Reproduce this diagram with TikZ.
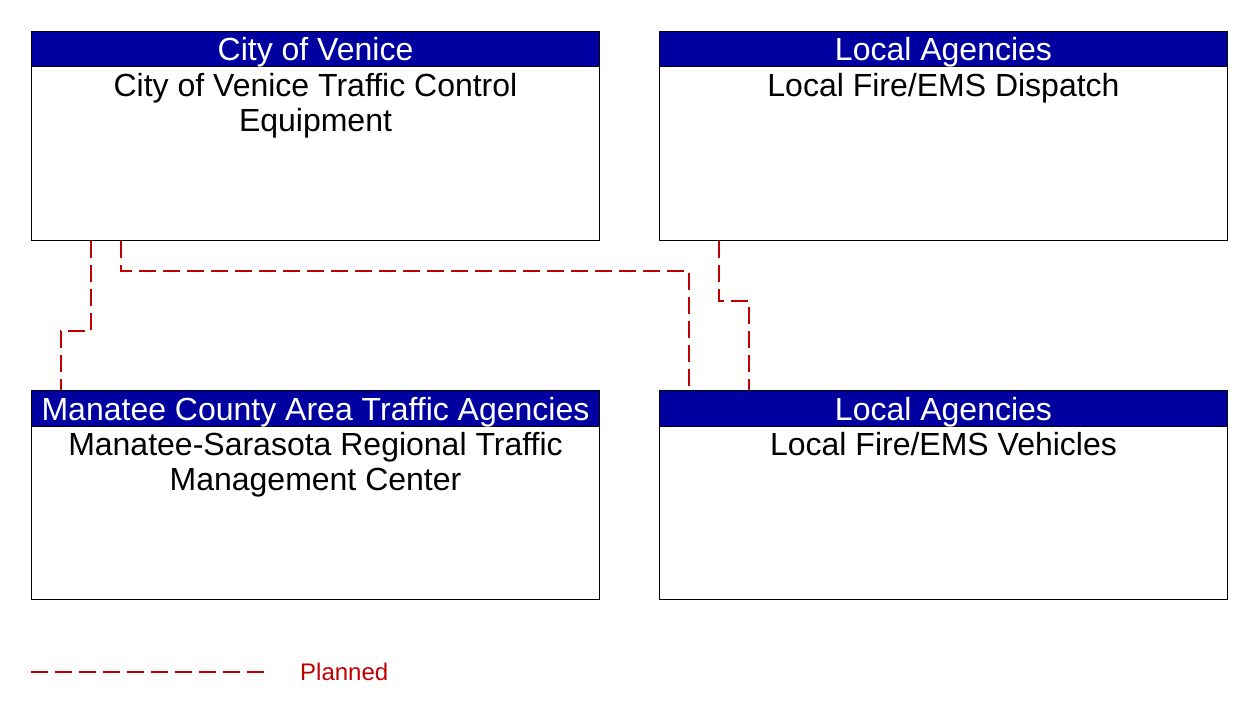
\documentclass[tikz,border=0pt]{standalone}
\usepackage{fontspec}
\setmainfont{Liberation Sans}
\definecolor{hdrblue}{RGB}{0,0,160}
\definecolor{planred}{RGB}{192,0,0}
\begin{document}
\begin{tikzpicture}[x=1pt,y=-1pt,
 box/.style={draw=black, line width=1pt, fill=white, minimum width=568pt, minimum height=209pt, anchor=north west, inner sep=0pt},
 hdr/.style={draw=black, line width=1pt, fill=hdrblue, text=white, minimum width=568pt, minimum height=35pt, anchor=north west, inner sep=0pt, font=\fontsize{32pt}{35pt}\selectfont, text height=23pt, text depth=0pt},
 body/.style={anchor=north, align=center, inner sep=0pt, font=\fontsize{32pt}{35.5pt}\selectfont},
 planned/.style={color=planred, line width=1.4pt, dash pattern=on 17pt off 7pt}]
\useasboundingbox[fill=white] (0,0) rectangle (1252,718);

% boxes
\node[box] (cv) at (31,31) {};
\node[hdr] (cvh) at (cv.north west) {City of Venice};
\node[body] (cvt) at ([yshift=-6pt]cvh.south) {City of Venice Traffic Control\\Equipment};

\node[box] (fd) at (659,31) {};
\node[hdr] (fdh) at (fd.north west) {Local Agencies};
\node[body] (fdt) at ([yshift=-6pt]fdh.south) {Local Fire/EMS Dispatch};

\node[box] (mt) at (31,390) {};
\node[hdr, minimum height=36pt] (mth) at (mt.north west) {Manatee County Area Traffic Agencies};
\node[body] (mtt) at ([yshift=-5pt]mth.south) {Manatee-Sarasota Regional Traffic\\Management Center};

\node[box] (fv) at (659,390) {};
\node[hdr, minimum height=36pt] (fvh) at (fv.north west) {Local Agencies};
\node[body] (fvt) at ([yshift=-5pt]fvh.south) {Local Fire/EMS Vehicles};

% connectors
\draw[planned] ([xshift=60pt]cv.south west) -- ++(0,90) -| ([xshift=30pt]mt.north west);
\draw[planned] ([xshift=90pt]cv.south west) -- ++(0,30) -| ([xshift=30pt]fv.north west);
\draw[planned] ([xshift=60pt]fd.south west) -- ++(0,60) -| ([xshift=90pt]fv.north west);

% legend
\coordinate (l1) at (31,672);
\coordinate (l2) at (265,672);
\draw[planned] (l1) -- (l2);
\node[anchor=west, inner sep=0pt, text=planred, font=\fontsize{24pt}{28pt}\selectfont] (lt) at (300,672) {Planned};
\end{tikzpicture}
\end{document}
